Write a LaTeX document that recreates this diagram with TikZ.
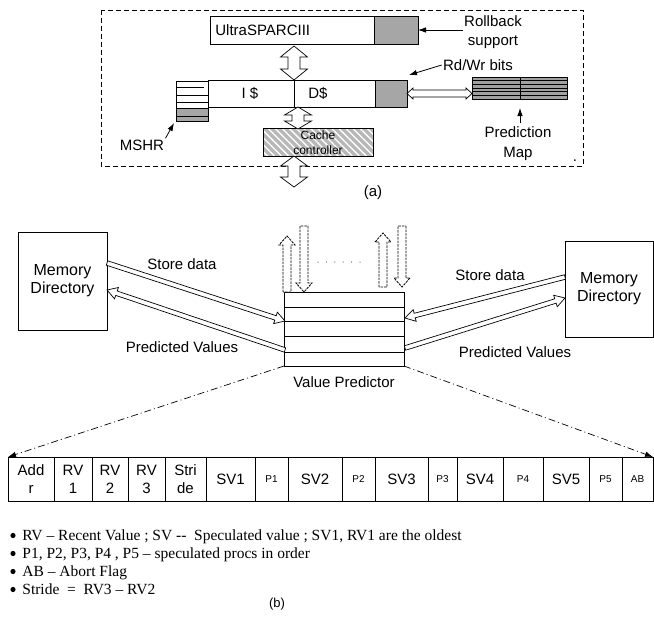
\documentclass[tikz,border=0pt]{standalone}
\usepackage{fontspec}
\setmainfont{Liberation Sans}
\newfontfamily\seriffam{Liberation Serif}
\usetikzlibrary{calc,arrows.meta,patterns.meta}
\definecolor{boxgray}{HTML}{A6A6A6}
\definecolor{mapgray}{HTML}{A0A0A0}
\definecolor{ccgray}{HTML}{B8B8B8}
\newcommand\cbig{\fontsize{15}{18}\selectfont}
\newcommand\csmall{\fontsize{10}{12}\selectfont}
% single block arrow: [opts]{A}{B}{half shaft}{half head}{head length}
\newcommand\blkarrow[6][]{%
  \coordinate (tmpc) at ($(#3)!#6!(#2)$);
  \draw[blk,#1] ($(#2)!#4!90:(#3)$) -- ($(tmpc)!#4!90:(#3)$) -- ($(tmpc)!#5!90:(#3)$) -- (#3)
    -- ($(tmpc)!#5!-90:(#3)$) -- ($(tmpc)!#4!-90:(#3)$) -- ($(#2)!#4!-90:(#3)$) -- cycle;}
% double-headed block arrow
\newcommand\dblkarrow[6][]{%
  \coordinate (tmpa) at ($(#2)!#6!(#3)$);
  \coordinate (tmpb) at ($(#3)!#6!(#2)$);
  \draw[blk,#1] (#2) -- ($(tmpa)!#5!90:(#3)$) -- ($(tmpa)!#4!90:(#3)$) -- ($(tmpb)!#4!90:(#3)$)
    -- ($(tmpb)!#5!90:(#3)$) -- (#3) -- ($(tmpb)!#5!-90:(#3)$) -- ($(tmpb)!#4!-90:(#3)$)
    -- ($(tmpa)!#4!-90:(#3)$) -- ($(tmpa)!#5!-90:(#3)$) -- cycle;}
\begin{document}
\begin{tikzpicture}[x=1pt,y=-1pt,line width=0.8pt,
  box/.style={draw,inner sep=0pt,outer sep=0pt},
  lbl/.style={font=\fontsize{15}{19}\selectfont,align=center,inner sep=1pt},
  mdlbl/.style={font=\fontsize{16}{18}\selectfont,align=center},
  blk/.style={draw,fill=white,line width=0.7pt,line join=miter},
  dasharr/.style={dash pattern=on 2.5pt off 1pt,line width=0.8pt},
  tip/.style={-{Latex[length=8pt,width=5.5pt]}},
  ddot/.style={line width=0.7pt,dash pattern=on 7pt off 3pt on 1pt off 3pt}]
\useasboundingbox (0,0) rectangle (654,624);

% ---------------- (a) ----------------
\draw[line width=0.7pt,dash pattern=on 5pt off 3pt] (101,10) rectangle (583,166);

\node[box,minimum width=208pt,minimum height=28pt] (us) at (314,30) {};
\node[box,fill=boxgray,minimum width=44pt,minimum height=28pt] (usg) at (396,30) {};
\node[lbl,anchor=west] (ustxt) at (214,30) {UltraSPARCIII};
\node[lbl] (rb) at (493,32) {Rollback\\support};
\draw[tip] (rb.west |- usg.east) -- (usg.east);

% MSHR
\fill[boxgray] (176,108) rectangle (208,121);
\node[box,minimum width=32pt,minimum height=40pt] (mshr) at (192,101) {};
\draw (177,87) -- (204,87);
\draw (176,95) -- (208,95);
\draw (176,102) -- (208,102);
\draw (176,108) -- (208,108);
\draw (176,116) -- (208,116);
\node[lbl] (mshrl) at (142,145) {MSHR};
\coordinate (mshrpt) at (174,123);
\draw[tip] (mshrl.north east) -- (mshrpt);

% caches
\node[box,minimum width=199pt,minimum height=27pt] (cache) at (307.5,93.5) {};
\node[box,fill=boxgray,minimum width=32pt,minimum height=27pt] (cg) at (391,93.5) {};
\coordinate (div) at (294,80);
\draw (div) -- (div |- cache.south);
\node[lbl] (is) at (250,93) {I \$};
\node[lbl] (ds) at (318,93) {D\$};

% Rd/Wr bits
\node[lbl] (rw) at (478,65) {Rd/Wr bits};
\coordinate (rwpt) at (409,75);
\draw[tip] (rw.west) -- (rwpt);

% prediction map
\node[box,fill=mapgray,minimum width=95pt,minimum height=22pt] (map) at (519.5,88) {};
\foreach \yy in {80.7,84.3,88,91.7,95.3} \draw[line width=0.6pt] (472,\yy) -- (567,\yy);
\draw (520,77) -- (520,99);
\coordinate (mapin) at (map.west |- cg.east);
\dblkarrow{cg.east}{mapin}{3.5pt}{5.5pt}{6pt}
\node[font=\fontsize{15}{20}\selectfont,align=center] (pm) at (518,144) {Prediction\\Map};
\coordinate (pmt) at (520,108);
\draw[tip] (pm.north -| pmt) -- (pmt);
\node[lbl,anchor=base] (dot) at (575,161) {.};

% cache controller
\node[fill=ccgray,minimum width=109pt,minimum height=27pt,inner sep=0pt] (cc) at (318.5,142.5) {};
\fill[pattern={Lines[angle=-45,distance=5pt,line width=1.3pt]},pattern color=white] (cc.south west) rectangle (cc.north east);
\draw (cc.south west) rectangle (cc.north east);
\node[font=\fontsize{12}{15}\selectfont,align=center] (cct) at (318,143) {Cache\\controller};

% vertical double arrows
\coordinate (a1t) at (294,46);
\coordinate (a1b) at (294,80);
\dblkarrow{a1t}{a1b}{6pt}{13.5pt}{11pt}
\coordinate (a2t) at (298,107);
\coordinate (a2b) at (298,129);
\dblkarrow{a2t}{a2b}{6pt}{13.5pt}{8pt}
\coordinate (a3t) at (294,156);
\coordinate (a3b) at (294,187);
\dblkarrow{a3t}{a3b}{6pt}{13.5pt}{10pt}

\node[lbl] (alab) at (373,193) {(a)};

% ---------------- (b) ----------------
\node[box,mdlbl,minimum width=89pt,minimum height=98pt] (mdl) at (62.5,281) {Memory\\Directory};
\node[box,mdlbl,minimum width=88pt,minimum height=96pt] (mdr) at (609,289) {Memory\\Directory};

\node[box,minimum width=120pt,minimum height=74pt] (vp) at (344,329) {};
\foreach \yy in {307,321,336,352} \draw (284,\yy) -- (404,\yy);
\node[lbl] (vpl) at (344,382) {Value Predictor};

% data arrows
\coordinate (sdlA) at (107,263);
\coordinate (sdlB) at (285,321);
\blkarrow{sdlA}{sdlB}{2.3pt}{6pt}{10pt}
\coordinate (pvlA) at (285,350);
\coordinate (pvlB) at (107,290);
\blkarrow{pvlA}{pvlB}{2.3pt}{6pt}{10pt}
\coordinate (sdrA) at (565,277);
\coordinate (sdrB) at (405,318);
\blkarrow{sdrA}{sdrB}{2.3pt}{6pt}{10pt}
\coordinate (pvrA) at (405,348);
\coordinate (pvrB) at (565,298);
\blkarrow{pvrA}{pvrB}{2.3pt}{6pt}{10pt}

\node[lbl] (sdl) at (182,264) {Store data};
\node[lbl] (pvl) at (182,347) {Predicted Values};
\node[lbl] (sdr) at (490,275) {Store data};
\node[lbl] (pvr) at (515,352) {Predicted Values};

% dashed arrows above predictor
\coordinate (u1b) at (287,292);
\coordinate (u1t) at (287,236);
\blkarrow[dasharr]{u1b}{u1t}{4pt}{8pt}{9pt}
\coordinate (d1t) at (304,226);
\coordinate (d1b) at (304,292);
\blkarrow[dasharr]{d1t}{d1b}{4pt}{8pt}{9pt}
\coordinate (u2b) at (383,287);
\coordinate (u2t) at (383,233);
\blkarrow[dasharr]{u2b}{u2t}{4pt}{8pt}{9pt}
\coordinate (d2t) at (402,226);
\coordinate (d2b) at (402,287);
\blkarrow[dasharr]{d2t}{d2b}{4pt}{8pt}{9pt}
\draw[line width=1pt,dash pattern=on 0pt off 8.4pt,line cap=round] (318,262) -- (361,262);

% entry cells
\foreach \a/\b/\t/\f [count=\i] in {
  8/54/{Add\\r}/\cbig, 54/92/{RV\\1}/\cbig, 92/128/{RV\\2}/\cbig, 128/165/{RV\\3}/\cbig,
  165/206/{Stri\\de}/\cbig, 206/255/{SV1}/\cbig, 255/288/{P1}/\csmall, 288/342/{SV2}/\cbig,
  342/375/{P2}/\csmall, 375/428/{SV3}/\cbig, 428/457/{P3}/\csmall, 457/503/{SV4}/\cbig,
  503/543/{P4}/\csmall, 543/589/{SV5}/\cbig, 589/622/{P5}/\csmall, 622/653/{AB}/\csmall}{
  \pgfmathsetmacro\cx{(\a+\b)/2}
  \pgfmathsetmacro\cw{\b-\a}
  \node[box,minimum width=\cw pt,minimum height=44pt,align=center,font=\f] (c\i) at (\cx,479) {\t};
}
\draw[ddot,tip] (vp.south west) -- (c1.north west);
\draw[ddot,tip] (vp.south east) -- (c16.north east);

% notes
\foreach \yy in {535.5,553.5,571.5,589.5} \fill (13,\yy) circle (2.6pt);
\begin{scope}[every node/.style={font=\seriffam\fontsize{15.5}{18}\selectfont,inner sep=0pt}]
\node[anchor=base west] (n1) at (22,540) {RV – Recent Value ; SV -{}-\ \ Speculated value ; SV1, RV1 are the oldest};
\node[anchor=base west] (n2) at (22,558) {P1, P2, P3, P4 , P5 – speculated procs in order};
\node[anchor=base west] (n3) at (22,576) {AB – Abort Flag};
\node[anchor=base west] (n4) at (22,594) {Stride\ \ =\ \ RV3 – RV2};
\end{scope}
\node[font=\fontsize{13}{15}\selectfont] (blab) at (277,604) {(b)};
\end{tikzpicture}
\end{document}
